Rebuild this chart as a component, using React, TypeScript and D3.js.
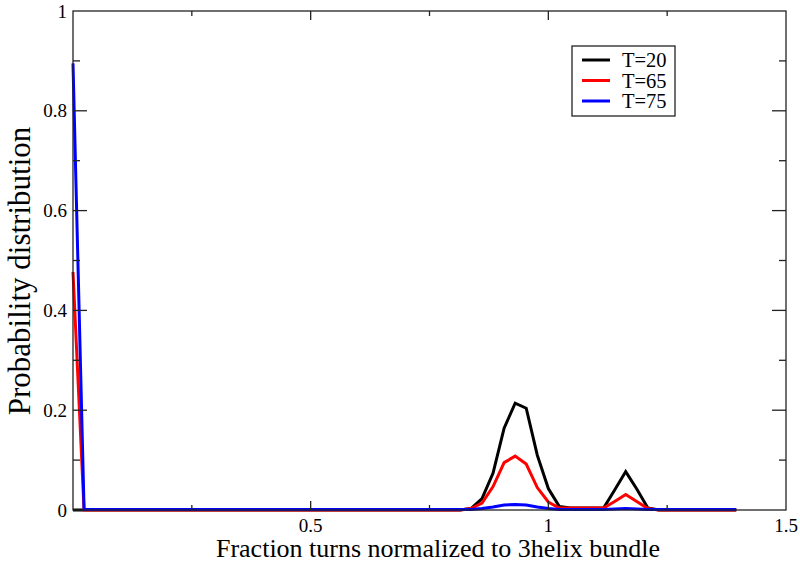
import { useEffect, useRef } from "react"
import * as d3 from "d3"

// bin index k -> fraction k/43
const binIndex = d3.range(0, 61)
const nTurns = 43

const seriesNames = ["T=20", "T=65", "T=75"]
const seriesColors = ["#000000", "#ff0000", "#0000ff"]

// T=20
const t20 = [
  0.0, 0.0, 0.0, 0.0, 0.0, 0.0, 0.0, 0.0, 0.0, 0.0,
  0.0, 0.0, 0.0, 0.0, 0.0, 0.0, 0.0, 0.0, 0.0, 0.0,
  0.0, 0.0, 0.0, 0.0, 0.0, 0.0, 0.0, 0.0, 0.0, 0.0,
  0.0, 0.0, 0.0, 0.0, 0.0, 0.0, 0.003, 0.023, 0.074, 0.164,
  0.214, 0.204, 0.11, 0.043, 0.007, 0.004, 0.004, 0.004, 0.004, 0.04,
  0.077, 0.042, 0.004, 0.0, 0.0, 0.0, 0.0, 0.0, 0.0, 0.0,
  0.0,
]
// T=65
const t65 = [
  0.477, 0.0, 0.0, 0.0, 0.0, 0.0, 0.0, 0.0, 0.0, 0.0,
  0.0, 0.0, 0.0, 0.0, 0.0, 0.0, 0.0, 0.0, 0.0, 0.0,
  0.0, 0.0, 0.0, 0.0, 0.0, 0.0, 0.0, 0.0, 0.0, 0.0,
  0.0, 0.0, 0.0, 0.0, 0.0, 0.0, 0.003, 0.014, 0.047, 0.095,
  0.108, 0.092, 0.045, 0.016, 0.004, 0.004, 0.004, 0.004, 0.004, 0.017,
  0.031, 0.017, 0.003, 0.0, 0.0, 0.0, 0.0, 0.0, 0.0, 0.0,
  0.0,
]
// T=75
const t75 = [
  0.895, 0.001, 0.001, 0.001, 0.001, 0.001, 0.001, 0.001, 0.001, 0.001,
  0.001, 0.001, 0.001, 0.001, 0.001, 0.001, 0.001, 0.001, 0.001, 0.001,
  0.001, 0.001, 0.001, 0.001, 0.001, 0.001, 0.001, 0.001, 0.001, 0.001,
  0.001, 0.001, 0.001, 0.001, 0.001, 0.001, 0.001, 0.003, 0.006, 0.01,
  0.011, 0.01, 0.006, 0.003, 0.001, 0.001, 0.001, 0.001, 0.001, 0.002,
  0.003, 0.002, 0.001, 0.001, 0.001, 0.001, 0.001, 0.001, 0.001, 0.001,
  0.001,
]

const xMajor = [0.5, 1, 1.5]
const xMinor = [0.25, 0.5, 0.75, 1, 1.25]
const yMajor = [0, 0.2, 0.4, 0.6, 0.8, 1]
const yMinor = [0.1, 0.2, 0.3, 0.4, 0.5, 0.6, 0.7, 0.8, 0.9]

export default function App() {
  const svgRef = useRef<SVGSVGElement>(null)

  useEffect(() => {
    if (!svgRef.current) return
    const svg = d3.select(svgRef.current)
    svg.selectAll("*").remove()

    const left = 73, right = 786, top = 11, bottom = 510
    const x = d3.scaleLinear().domain([0, 1.5]).range([left, right])
    const y = d3.scaleLinear().domain([0, 1]).range([bottom, top])
    const font = "'Liberation Serif', 'Times New Roman', serif"

    svg.append("rect").attr("width", 800).attr("height", 566).attr("fill", "#fff")

    const all = [t20, t65, t75]
    const line = d3
      .line<number>()
      .x((_, i) => x(binIndex[i] / nTurns))
      .y((d) => y(d))

    all.forEach((vals, si) => {
      svg
        .append("path")
        .datum(vals)
        .attr("fill", "none")
        .attr("stroke", seriesColors[si])
        .attr("stroke-width", 3)
        .attr("stroke-linejoin", "miter")
        .attr("d", line)
    })

    // frame
    svg
      .append("rect")
      .attr("x", left)
      .attr("y", top)
      .attr("width", right - left)
      .attr("height", bottom - top)
      .attr("fill", "none")
      .attr("stroke", "#222")
      .attr("stroke-width", 1.3)

    const ticks = svg.append("g").attr("stroke", "#222").attr("stroke-width", 1.3)
    xMinor.forEach((v) => {
      const len = xMajor.includes(v) ? 9 : 5
      ticks.append("line").attr("x1", x(v)).attr("x2", x(v)).attr("y1", bottom).attr("y2", bottom - len)
      ticks.append("line").attr("x1", x(v)).attr("x2", x(v)).attr("y1", top).attr("y2", top + len)
    })
    yMinor.forEach((v) => {
      const len = yMajor.includes(v) ? 14 : 7
      ticks.append("line").attr("x1", left).attr("x2", left + len).attr("y1", y(v)).attr("y2", y(v))
      ticks.append("line").attr("x1", right).attr("x2", right - len).attr("y1", y(v)).attr("y2", y(v))
    })

    const labels = svg.append("g").attr("font-family", font).attr("font-size", 19).attr("fill", "#000")
    xMajor.forEach((v) => {
      labels.append("text").attr("x", x(v)).attr("y", 531.5).attr("text-anchor", "middle").text(d3.format("")(v))
    })
    yMajor.forEach((v) => {
      labels
        .append("text")
        .attr("x", left - 6)
        .attr("y", y(v))
        .attr("dy", "0.35em")
        .attr("text-anchor", "end")
        .text(v === 0 ? "0" : v === 1 ? "1" : d3.format(".1f")(v))
    })

    svg
      .append("text")
      .attr("x", 438)
      .attr("y", 556.5)
      .attr("text-anchor", "middle")
      .attr("font-family", font)
      .attr("font-size", 26)
      .text("Fraction turns normalized to 3helix bundle")

    svg
      .append("text")
      .attr("transform", `translate(30,271) rotate(-90)`)
      .attr("text-anchor", "middle")
      .attr("font-family", font)
      .attr("font-size", 31)
      .text("Probability distribution")

    // legend
    const lg = svg.append("g")
    lg.append("rect")
      .attr("x", 572)
      .attr("y", 46)
      .attr("width", 103)
      .attr("height", 70)
      .attr("fill", "#fff")
      .attr("stroke", "#222")
      .attr("stroke-width", 1.3)
    seriesNames.forEach((name, i) => {
      const yy = 60 + i * 20.5
      lg.append("line")
        .attr("x1", 582)
        .attr("x2", 610)
        .attr("y1", yy)
        .attr("y2", yy)
        .attr("stroke", seriesColors[i])
        .attr("stroke-width", 3)
      lg.append("text")
        .attr("x", 622)
        .attr("y", yy)
        .attr("dy", "0.35em")
        .attr("font-family", font)
        .attr("font-size", 20.5)
        .text(name)
    })
  }, [])

  return (
    <svg
      ref={svgRef}
      width={800}
      height={566}
      style={{ position: "absolute", left: 0, top: 0, display: "block" }}
    />
  )
}
